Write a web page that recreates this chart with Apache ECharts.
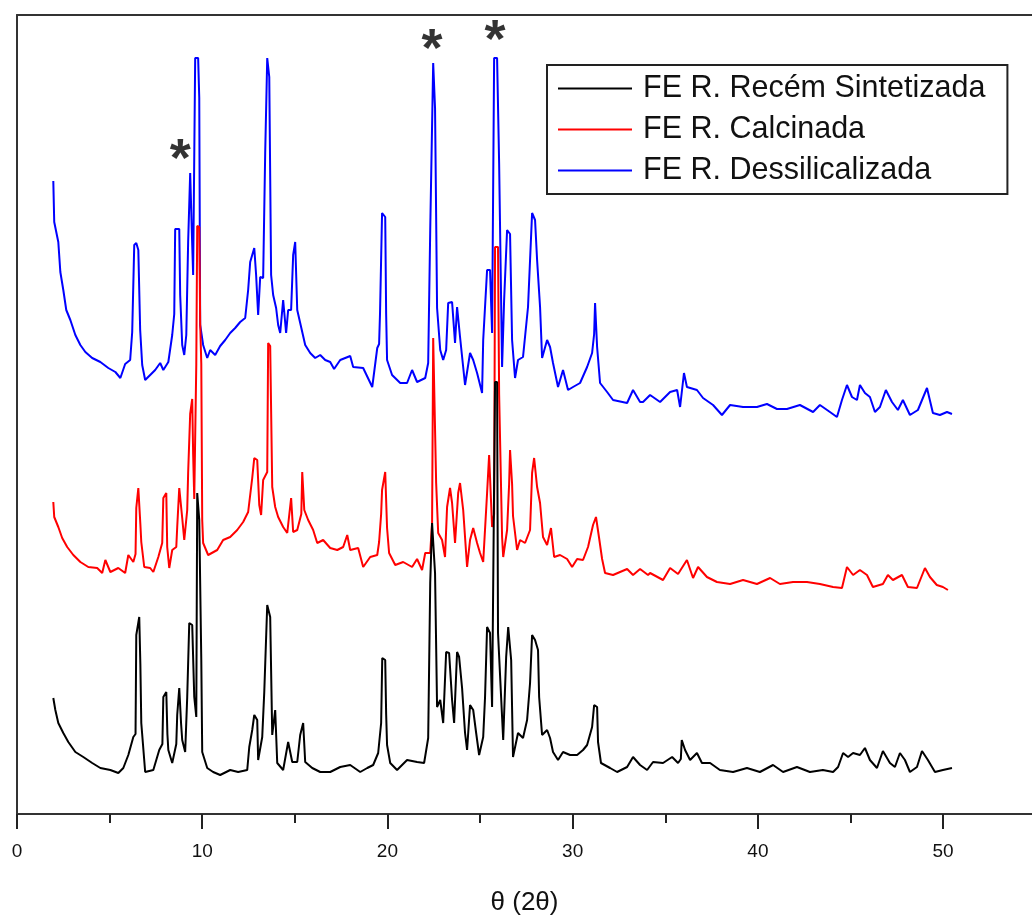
<!DOCTYPE html>
<html>
<head>
<meta charset="utf-8">
<script src="https://cdn.jsdelivr.net/npm/echarts@6/dist/echarts.min.js"></script>
<style>
html,body{margin:0;padding:0;background:#fff;}
#chart{width:1032px;height:915px;}
</style>
</head>
<body>
<div id="chart"></div>
<script>
// Series names (legend order)
var seriesNames = ['FE R. Recém Sintetizada', 'FE R. Calcinada', 'FE R. Dessilicalizada'];

// X axis ticks (degrees 2θ)
var xTicks = [0, 10, 20, 30, 40, 50];

// Black: FER recém sintetizada  [2θ, intensity (a.u., stacked)]
var blackData = [[1.96,116],[2.07,104],[2.23,91],[2.50,81],[2.77,72],[3.15,62],[3.58,57],[4.06,51],[4.50,46],[5.04,44],[5.47,41],[5.74,46],[6.01,59],[6.28,77],[6.40,80],[6.44,179],[6.60,197],[6.66,150],[6.71,91],[6.92,42],[7.36,44],[7.68,64],[7.85,70],[7.90,117],[8.06,122],[8.12,80],[8.17,64],[8.38,51],[8.60,70],[8.65,99],[8.76,126],[8.86,90],[8.92,74],[9.08,62],[9.19,117],[9.30,191],[9.46,189],[9.57,117],[9.68,97],[9.73,321],[9.84,294],[9.95,154],[10.00,62],[10.27,46],[10.59,42],[10.97,39],[11.51,44],[11.94,42],[12.43,44],[12.54,67],[12.70,84],[12.81,99],[12.97,94],[13.02,54],[13.24,77],[13.35,122],[13.51,209],[13.67,197],[13.78,79],[13.94,104],[14.05,51],[14.37,44],[14.64,72],[14.86,52],[15.13,52],[15.29,79],[15.45,91],[15.56,52],[15.94,46],[16.37,42],[16.91,42],[17.45,47],[17.99,49],[18.53,42],[18.91,46],[19.23,49],[19.50,61],[19.66,91],[19.72,156],[19.88,154],[19.93,100],[19.98,69],[20.15,51],[20.52,44],[21.06,54],[21.60,52],[21.98,51],[22.20,76],[22.31,231],[22.41,291],[22.57,241],[22.68,107],[22.85,114],[23.01,91],[23.17,162],[23.33,161],[23.49,114],[23.60,91],[23.76,162],[23.87,157],[24.03,126],[24.19,81],[24.30,64],[24.46,109],[24.63,104],[24.79,81],[24.95,59],[25.17,77],[25.27,117],[25.38,187],[25.54,181],[25.65,107],[25.81,432],[25.92,432],[25.97,181],[26.19,97],[26.25,74],[26.41,157],[26.52,187],[26.68,154],[26.78,57],[27.05,81],[27.32,76],[27.54,94],[27.70,131],[27.81,179],[27.97,174],[28.13,164],[28.19,117],[28.35,79],[28.62,84],[28.78,76],[28.94,62],[29.21,54],[29.48,62],[29.86,59],[30.24,59],[30.56,64],[30.78,69],[31.05,87],[31.16,109],[31.32,107],[31.37,72],[31.53,51],[32.02,46],[32.40,42],[32.94,47],[33.26,57],[33.64,49],[34.02,44],[34.34,52],[34.88,51],[35.37,57],[35.69,51],[35.84,55],[35.89,74],[36.07,64],[36.34,54],[36.71,61],[36.98,51],[37.42,51],[37.95,44],[38.66,42],[39.41,46],[40.11,42],[40.82,49],[41.36,42],[42.11,47],[42.81,42],[43.51,44],[44.06,42],[44.33,47],[44.60,61],[44.87,57],[45.14,61],[45.51,59],[45.78,66],[46.05,54],[46.43,46],[46.75,63],[47.13,51],[47.40,47],[47.67,61],[47.94,54],[48.21,42],[48.59,47],[48.86,63],[49.18,54],[49.56,42],[49.99,44],[50.48,46]];

// Red: FER calcinada
var redData = [[1.96,312],[2.01,297],[2.23,287],[2.44,276],[2.71,267],[3.04,259],[3.42,252],[3.85,247],[4.33,246],[4.60,241],[4.77,254],[5.04,242],[5.47,246],[5.84,241],[6.01,259],[6.28,252],[6.40,260],[6.44,306],[6.55,326],[6.66,290],[6.71,272],[6.87,247],[7.19,246],[7.36,242],[7.63,257],[7.84,271],[7.90,316],[8.06,321],[8.11,267],[8.22,246],[8.38,264],[8.60,267],[8.65,287],[8.76,326],[8.92,296],[9.03,274],[9.19,304],[9.24,341],[9.35,400],[9.46,415],[9.51,360],[9.57,315],[9.68,450],[9.73,588],[9.84,587],[9.89,491],[9.95,450],[10.00,294],[10.05,271],[10.32,259],[10.81,264],[11.13,274],[11.51,277],[11.89,284],[12.21,292],[12.48,302],[12.70,336],[12.81,356],[12.97,354],[13.08,309],[13.18,299],[13.29,334],[13.51,342],[13.56,471],[13.67,468],[13.78,327],[13.94,307],[14.10,297],[14.37,287],[14.59,281],[14.80,316],[14.91,282],[15.13,284],[15.35,300],[15.40,342],[15.51,304],[15.72,294],[15.99,284],[16.21,271],[16.53,274],[16.91,266],[17.29,264],[17.61,267],[17.83,279],[17.99,264],[18.42,266],[18.69,247],[19.07,257],[19.45,259],[19.55,272],[19.66,300],[19.71,324],[19.88,342],[19.98,286],[20.09,261],[20.42,249],[20.85,252],[21.33,247],[21.60,255],[21.87,244],[22.04,261],[22.31,261],[22.41,291],[22.47,476],[22.57,476],[22.63,331],[22.74,281],[22.95,274],[23.11,257],[23.22,307],[23.38,326],[23.49,311],[23.65,271],[23.82,321],[23.92,331],[24.09,304],[24.30,247],[24.46,274],[24.63,286],[24.84,271],[25.00,261],[25.17,252],[25.38,321],[25.49,359],[25.65,287],[25.76,300],[25.81,567],[25.97,567],[26.03,420],[26.19,277],[26.25,257],[26.46,284],[26.57,330],[26.62,364],[26.73,330],[26.78,298],[27.00,264],[27.16,274],[27.43,271],[27.70,284],[27.81,341],[27.92,356],[28.08,327],[28.24,311],[28.40,277],[28.62,269],[28.83,286],[29.00,257],[29.32,259],[29.70,255],[29.97,247],[30.24,255],[30.56,254],[30.83,267],[31.10,289],[31.26,297],[31.42,277],[31.59,255],[31.75,241],[32.18,239],[32.94,245],[33.26,239],[33.64,245],[34.07,239],[34.18,241],[34.88,234],[35.26,246],[35.69,240],[36.17,254],[36.50,236],[36.77,247],[37.25,237],[37.79,232],[38.50,230],[39.20,234],[39.95,230],[40.66,236],[41.19,230],[41.90,232],[42.65,232],[43.35,230],[44.06,227],[44.54,226],[44.81,247],[45.14,239],[45.51,244],[45.89,239],[46.21,227],[46.75,230],[47.02,239],[47.29,234],[47.78,239],[48.10,227],[48.59,226],[49.02,246],[49.29,237],[49.66,229],[49.99,227],[50.26,224]];

// Blue: FER dessilicalizada
var blueData = [[1.96,633],[2.01,592],[2.23,572],[2.34,542],[2.50,524],[2.66,504],[2.88,494],[3.15,479],[3.42,469],[3.69,462],[4.06,456],[4.50,452],[4.93,446],[5.31,442],[5.58,436],[5.84,450],[6.11,454],[6.22,482],[6.33,569],[6.44,571],[6.55,564],[6.65,484],[6.76,449],[6.92,434],[7.19,439],[7.46,444],[7.73,451],[7.90,444],[8.17,452],[8.38,479],[8.49,500],[8.54,585],[8.76,585],[8.81,519],[8.92,469],[9.03,459],[9.14,479],[9.24,572],[9.35,641],[9.46,569],[9.51,539],[9.62,756],[9.78,756],[9.84,716],[9.89,489],[10.05,469],[10.27,456],[10.43,464],[10.70,459],[10.97,468],[11.24,474],[11.51,481],[11.78,486],[12.05,492],[12.32,496],[12.48,524],[12.59,552],[12.70,559],[12.81,566],[12.91,539],[13.02,499],[13.13,537],[13.29,536],[13.40,661],[13.51,756],[13.62,737],[13.72,539],[13.83,519],[13.99,506],[14.10,489],[14.21,481],[14.37,514],[14.53,481],[14.64,504],[14.80,504],[14.91,559],[15.02,572],[15.13,504],[15.29,491],[15.56,469],[15.83,461],[16.10,456],[16.37,459],[16.64,454],[16.91,452],[17.12,445],[17.45,454],[17.99,458],[18.15,447],[18.69,446],[19.18,427],[19.45,466],[19.55,470],[19.60,501],[19.71,601],[19.88,597],[19.93,500],[19.98,454],[20.25,439],[20.69,431],[21.06,431],[21.33,444],[21.60,432],[22.04,436],[22.20,451],[22.31,584],[22.47,751],[22.57,706],[22.68,506],[22.85,464],[23.01,454],[23.17,464],[23.28,511],[23.49,512],[23.65,471],[23.76,507],[23.92,477],[24.19,429],[24.46,461],[24.63,454],[24.84,441],[25.11,421],[25.17,474],[25.38,544],[25.54,544],[25.65,481],[25.76,756],[25.92,756],[26.03,651],[26.19,447],[26.30,514],[26.46,584],[26.62,580],[26.73,474],[26.89,436],[27.05,454],[27.32,457],[27.59,507],[27.81,601],[27.97,594],[28.08,554],[28.24,507],[28.35,456],[28.62,474],[28.78,467],[28.94,451],[29.21,427],[29.48,444],[29.75,424],[30.02,427],[30.40,431],[30.78,447],[31.05,461],[31.16,480],[31.21,511],[31.32,467],[31.48,431],[31.86,422],[32.18,414],[32.94,411],[33.26,424],[33.64,412],[33.80,412],[34.18,419],[34.72,412],[35.26,422],[35.64,424],[35.80,407],[36.01,441],[36.17,427],[36.71,424],[37.04,416],[37.58,409],[38.06,399],[38.50,409],[39.20,407],[39.95,407],[40.49,410],[41.03,405],[41.57,405],[42.27,409],[42.98,402],[43.35,409],[43.89,402],[44.27,397],[44.54,414],[44.81,429],[45.08,417],[45.35,414],[45.51,429],[45.78,421],[46.05,417],[46.32,402],[46.59,407],[46.91,424],[47.24,412],[47.56,404],[47.83,414],[48.21,399],[48.64,404],[49.13,426],[49.45,401],[49.83,399],[50.21,402],[50.48,400]];

// Asterisk annotations (positions of marked reflections)
var starPoints = [[8.81,662],[22.41,772],[25.81,781]];

var chart = echarts.init(document.getElementById('chart'), null, {renderer:'canvas'});
var FONT = '"Liberation Sans", Arial, sans-serif';
var lineW = 2;
var axisCol = '#333';

chart.setOption({
  animation: false,
  backgroundColor: '#ffffff',
  grid: {left: 17, top: 15, right: 0, bottom: 101, show: false, containLabel: false, outerBoundsMode: 'none'},
  legend: {
    data: seriesNames,
    orient: 'vertical',
    left: 547, top: 65,
    padding: [3, 22, 3, 11],
    itemGap: 0,
    itemWidth: 74, itemHeight: 2,
    icon: 'rect',
    borderColor: '#222', borderWidth: 2,
    textStyle: {fontFamily: FONT, fontSize: 30.5, color: '#111', lineHeight: 41, padding: [0,0,0,6]}
  },
  xAxis: [{
    type: 'value', min: 0, max: 54.8, interval: 10,
    name: 'θ (2θ)', nameLocation: 'middle', nameGap: 76,
    nameTextStyle: {fontFamily: FONT, fontSize: 26, color: '#111'},
    axisLine: {show: true, lineStyle: {color: axisCol, width: 2}},
    axisTick: {show: true, inside: false, length: 15, customValues: xTicks, lineStyle: {color: '#222', width: 2}},
    minorTick: {show: true, splitNumber: 2, length: 9, lineStyle: {color: '#222', width: 2}},
    splitLine: {show: false},
    axisLabel: {fontFamily: FONT, fontSize: 19, color: '#111', margin: 28, customValues: xTicks,
      formatter: function(v){ return String(v); }}
  }, {
    type: 'value', min: 0, max: 54.8, position: 'top',
    axisLine: {show: true, lineStyle: {color: axisCol, width: 2}},
    axisTick: {show: false}, axisLabel: {show: false}, splitLine: {show: false}
  }],
  yAxis: {
    type: 'value', min: 0, max: 799,
    axisLine: {show: true, lineStyle: {color: axisCol, width: 2}},
    axisTick: {show: false}, axisLabel: {show: false}, splitLine: {show: false}
  },
  series: [
    {name: seriesNames[2], type: 'line', data: blueData, showSymbol: false, symbol: 'none', z: 2,
      lineStyle: {color: '#0000ff', width: lineW}, itemStyle: {color: '#0000ff'}},
    {name: seriesNames[1], type: 'line', data: redData, showSymbol: false, symbol: 'none', z: 3,
      lineStyle: {color: '#ff0000', width: lineW}, itemStyle: {color: '#ff0000'}},
    {name: seriesNames[0], type: 'line', data: blackData, showSymbol: false, symbol: 'none', z: 4,
      lineStyle: {color: '#000000', width: lineW}, itemStyle: {color: '#000000'}},
    {name: 'asterisks', type: 'scatter', data: starPoints, symbolSize: 1, z: 6,
      itemStyle: {color: 'rgba(0,0,0,0)'},
      label: {show: true, position: 'inside', formatter: '*', fontFamily: FONT, fontSize: 54, fontWeight: 'bold', color: '#000', offset: [0, 9]}}
  ]
});
</script>
</body>
</html>
